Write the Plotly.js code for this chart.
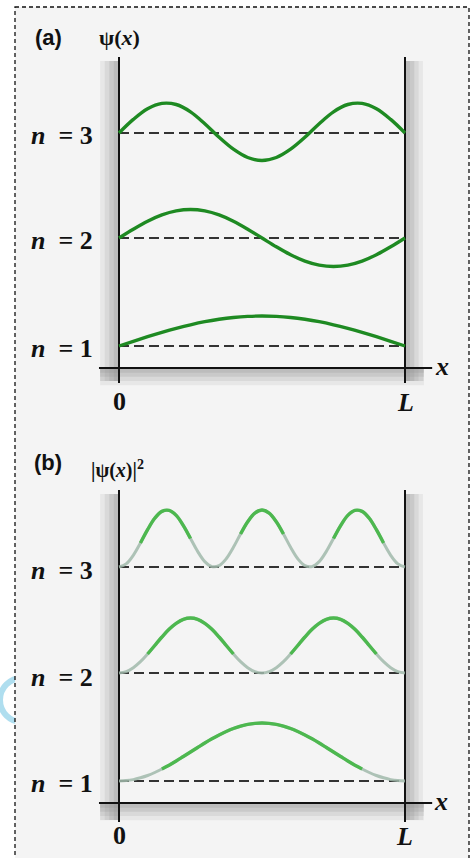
<!DOCTYPE html>
<html><head><meta charset="utf-8">
<script src="https://cdn.plot.ly/plotly-3.0.1.min.js"></script>
<style>html,body{margin:0;padding:0;background:#fff}#chart{width:474px;height:858px}</style>
</head><body><div id="chart"></div>
<script>
// ---------- data (L = 1) ----------
const xA = [0,0.05,0.1,0.15,0.2,0.25,0.3,0.35,0.4,0.45,0.5,0.55,0.6,0.65,0.7,0.75,0.8,0.85,0.9,0.95,1];
const xB = [0,0.025,0.05,0.075,0.1,0.125,0.15,0.175,0.2,0.225,0.25,0.275,0.3,0.325,0.35,0.375,0.4,0.425,0.45,0.475,0.5,
            0.525,0.55,0.575,0.6,0.625,0.65,0.675,0.7,0.725,0.75,0.775,0.8,0.825,0.85,0.875,0.9,0.925,0.95,0.975,1];
const levelNames = ['1','2','3'];
const levelsA = [0.22, 1.30, 2.35];   // baselines, panel (a)
const levelsB = [0.22, 1.30, 2.36];   // baselines, panel (b)
// panel (a): psi(x) offsets from each baseline
const psi1 = [0,0.047,0.093,0.136,0.176,0.212,0.243,0.267,0.285,0.296,0.300,0.296,0.285,0.267,0.243,0.212,0.176,0.136,0.093,0.047,0];
const psi2 = [0,0.088,0.168,0.231,0.271,0.285,0.271,0.231,0.168,0.088,0,-0.088,-0.168,-0.231,-0.271,-0.285,-0.271,-0.231,-0.168,-0.088,0];
const psi3 = [0,0.136,0.243,0.296,0.285,0.212,0.093,-0.043,-0.162,-0.245,-0.275,-0.245,-0.162,-0.043,0.093,0.212,0.285,0.296,0.243,0.136,0];
// panel (b): |psi(x)|^2 offsets from each baseline
const prob1 = [0,0.004,0.014,0.032,0.055,0.085,0.120,0.158,0.200,0.245,0.290,0.335,0.380,0.422,0.460,0.495,0.525,0.548,0.566,0.576,0.580,
               0.576,0.566,0.548,0.525,0.495,0.460,0.422,0.380,0.335,0.290,0.245,0.200,0.158,0.120,0.085,0.055,0.032,0.014,0.004,0];
const prob2 = [0,0.013,0.053,0.113,0.190,0.275,0.360,0.437,0.497,0.537,0.550,0.537,0.497,0.437,0.360,0.275,0.190,0.113,0.053,0.013,0,
               0.013,0.053,0.113,0.190,0.275,0.360,0.437,0.497,0.537,0.550,0.537,0.497,0.437,0.360,0.275,0.190,0.113,0.053,0.013,0];
const prob3 = [0,0.031,0.117,0.240,0.373,0.487,0.556,0.566,0.516,0.414,0.285,0.156,0.054,0.004,0.014,0.083,0.197,0.330,0.453,0.539,0.570,
               0.539,0.453,0.330,0.197,0.083,0.014,0.004,0.054,0.156,0.285,0.414,0.516,0.566,0.556,0.487,0.373,0.240,0.117,0.031,0];
const boxEnds = [0, 1];

// ---------- styling ----------
const W = 474, H = 858;
const px = v => v / W, py = v => 1 - v / H;
const greenA = '#1e8a22', greenB = '#4db84f', fadeB = 'rgba(160,185,170,0.85)';
const fadeThresh = [0.09, 0.13, 0.22];

const traces = [];
const psiA = [psi1, psi2, psi3], probB = [prob1, prob2, prob3];
levelsA.forEach((lv, i) => {
  traces.push({x: boxEnds, y: boxEnds.map(() => lv), xaxis:'x', yaxis:'y', mode:'lines',
    line:{color:'#333', width:2, dash:'10px,5px'}, hoverinfo:'skip'});
  traces.push({x: xA, y: psiA[i].map(v => lv + v), xaxis:'x', yaxis:'y', mode:'lines',
    line:{color:greenA, width:3.4, shape:'spline'}, name:'n='+levelNames[i]});
});
levelsB.forEach((lv, i) => {
  traces.push({x: boxEnds, y: boxEnds.map(() => lv), xaxis:'x2', yaxis:'y2', mode:'lines',
    line:{color:'#333', width:2, dash:'10px,5px'}, hoverinfo:'skip'});
  traces.push({x: xB, y: probB[i].map(v => lv + v), xaxis:'x2', yaxis:'y2', mode:'lines',
    line:{color:fadeB, width:3, shape:'spline'}});
  traces.push({x: xB, y: probB[i].map(v => v >= fadeThresh[i] ? lv + v : null), xaxis:'x2', yaxis:'y2', mode:'lines',
    connectgaps:false, line:{color:greenB, width:3.4, shape:'spline'}, name:'n='+levelNames[i]});
});

const shapes = [];
// watermark arc + inner dashed frame
shapes.push({type:'circle', xref:'paper', yref:'paper', x0:px(0), x1:px(44), y0:py(722), y1:py(678),
  line:{color:'rgba(110,195,225,0.55)', width:6}, layer:'below'});
shapes.push({type:'rect', xref:'paper', yref:'paper', x0:px(15), x1:px(469), y0:py(7), y1:py(880),
  line:{color:'#111', width:1.3, dash:'4px,3px'}, fillcolor:'#f4f4f4', layer:'below'});
// box walls (soft shading) and axis lines for each panel
function panel(xr, yr, top, bottom) {
  const grads = [[0.066, 0.12], [0.05, 0.16], [0.034, 0.2], [0.018, 0.22]];
  grads.forEach(([w, a]) => {
    const c = 'rgba(140,140,140,' + a + ')';
    shapes.push({type:'rect', xref:xr, yref:yr, x0:-w, x1:0, y0:bottom + 0.02, y1:top - 0.04, fillcolor:c, line:{width:0}, layer:'below'});
    shapes.push({type:'rect', xref:xr, yref:yr, x0:1, x1:1 + w * 0.95, y0:bottom + 0.02, y1:top - 0.04, fillcolor:c, line:{width:0}, layer:'below'});
    shapes.push({type:'rect', xref:xr, yref:yr, x0:-0.066, x1:1.066, y0:-w * 2.6, y1:0, fillcolor:c, line:{width:0}, layer:'below'});
  });
  shapes.push({type:'line', xref:xr, yref:yr, x0:0, x1:0, y0:bottom, y1:top, line:{color:'#111', width:2}, layer:'below'});
  shapes.push({type:'line', xref:xr, yref:yr, x0:1, x1:1, y0:bottom, y1:top, line:{color:'#111', width:2}, layer:'below'});
  shapes.push({type:'line', xref:xr, yref:yr, x0:-0.07, x1:1.095, y0:0, y1:0, line:{color:'#111', width:2}, layer:'below'});
}
panel('x', 'y', 3.11, -0.15);
panel('x2', 'y2', 3.13, -0.19);

const ann = [];
const nFont = {family:'Liberation Serif', size:26, color:'#111'};
function txt(x, y, t, f, xa) {
  ann.push({xref:'paper', yref:'paper', x:px(x), y:py(y), text:t, showarrow:false,
    xanchor: xa || 'center', yanchor:'middle', font:f});
}
const labA = [348, 240, 136], labB = [783, 677, 570];
levelNames.forEach((n, i) => {
  txt(29, labA[i], '<b><i>n</i>  = ' + n + '</b>', nFont, 'left');
  txt(29, labB[i], '<b><i>n</i>  = ' + n + '</b>', nFont, 'left');
});
const lblFont = {family:'Liberation Sans', size:22, color:'#111'};
txt(48, 37, '<b>(a)</b>', lblFont);
txt(48, 462, '<b>(b)</b>', lblFont);
txt(119, 38, '<b>ψ(<i>x</i>)</b>', {family:'Liberation Serif', size:22, color:'#111'});
txt(117, 469, '<b>|ψ(<i>x</i>)|<sup>2</sup></b>', {family:'Liberation Serif', size:20, color:'#111'});
const tickFont = {family:'Liberation Serif', size:26, color:'#111'};
txt(119, 401, '<b>0</b>', tickFont);
txt(405, 402, '<b><i>L</i></b>', tickFont);
txt(442, 366, '<b><i>x</i></b>', tickFont);
txt(119, 835, '<b>0</b>', tickFont);
txt(404, 836, '<b><i>L</i></b>', tickFont);
txt(441, 801, '<b><i>x</i></b>', tickFont);

const xr = [-119 / 286, (W - 119) / 286];
const layout = {
  width: W, height: H, margin:{l:0, r:0, t:0, b:0},
  paper_bgcolor:'#ffffff', plot_bgcolor:'rgba(0,0,0,0)', showlegend:false,
  xaxis:{domain:[0,1], range:xr, visible:false, fixedrange:true},
  yaxis:{domain:[0.5,1], range:[-0.61, 3.68], visible:false, fixedrange:true},
  xaxis2:{domain:[0,1], range:xr, visible:false, anchor:'y2', fixedrange:true},
  yaxis2:{domain:[0,0.5], range:[-0.55, 3.74], visible:false, anchor:'x2', fixedrange:true},
  shapes: shapes, annotations: ann
};
Plotly.newPlot('chart', traces, layout, {displayModeBar:false, staticPlot:true});
</script>
</body></html>
